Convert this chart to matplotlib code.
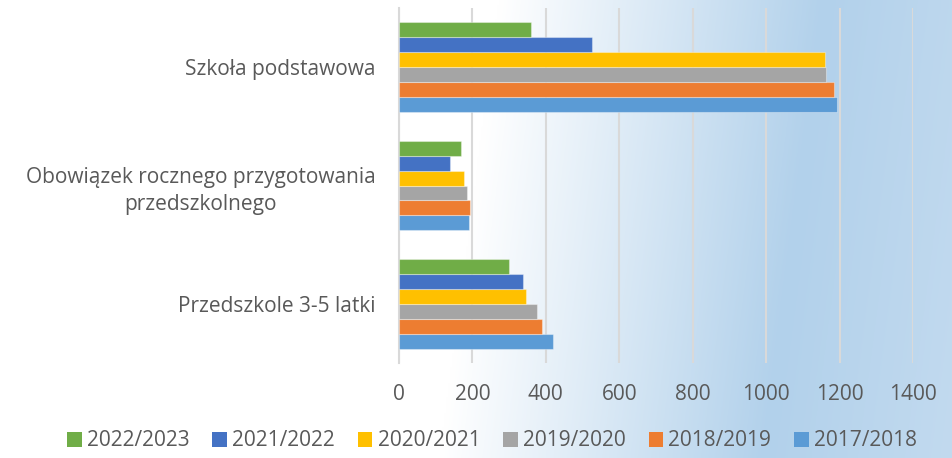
import numpy as np
import matplotlib
matplotlib.use("Agg")
import matplotlib.pyplot as plt
from matplotlib.patches import Patch

categories = ["Przedszkole 3-5 latki",
              "Obowiązek rocznego przygotowania\nprzedszkolnego",
              "Szkoła podstawowa"]
series_names = ["2017/2018", "2018/2019", "2019/2020", "2020/2021", "2021/2022", "2022/2023"]
v_2017 = [420, 190, 1193]
v_2018 = [390, 193, 1185]
v_2019 = [377, 184, 1163]
v_2020 = [345, 178, 1160]
v_2021 = [339, 140, 527]
v_2022 = [299, 170, 359]
values = [v_2017, v_2018, v_2019, v_2020, v_2021, v_2022]
colors = ["#5B9BD5", "#ED7D31", "#A5A5A5", "#FFC000", "#4472C4", "#70AD47"]
xticks = [0, 200, 400, 600, 800, 1000, 1200, 1400]

plt.rcParams['font.family'] = ['Open Sans', 'DejaVu Sans']
text_color = "#595959"

W, H = 953, 458
fig = plt.figure(figsize=(W / 100, H / 100), dpi=100)

# background gradient
bg = fig.add_axes([0, 0, 1, 1], zorder=-10)
xx, yy = np.meshgrid(np.linspace(0, 1, 480), np.linspace(0, 1, 230))
t = xx * W + yy * 60
start, peak = 500.0, 825.0
white = np.array([1.0, 1.0, 1.0])
blue = np.array([0xB2, 0xD1, 0xEB]) / 255
edge = np.array([0xC2, 0xDA, 0xEF]) / 255
a = np.clip((t - start) / (peak - start), 0, 1)[..., None]
img = white * (1 - a) + blue * a
over = np.clip((t - peak) / (W + 60 - peak), 0, 1)[..., None]
img = np.where((t > peak)[..., None], blue * (1 - over) + edge * over, img)
bg.imshow(img, aspect='auto', extent=[0, 1, 0, 1], origin='upper')
bg.set_axis_off()

ax = fig.add_axes([399 / W, 1 - 363 / H, 514 / W, 355 / H])
ax.set_facecolor('none')

n = len(series_names)
group_w = 0.76
bar_h = group_w / n
y = np.arange(len(categories))
for i, (name, vals, c) in enumerate(zip(series_names, values, colors)):
    offs = -group_w / 2 + bar_h * (i + 0.5)
    ax.barh(y + offs, vals, height=bar_h, color=c, label=name,
            edgecolor=matplotlib.colors.to_rgba('white', 0.35), linewidth=0.8, zorder=3)

ax.set_xlim(0, 1400)
ax.set_ylim(-0.5, len(categories) - 0.5)
ax.set_xticks(xticks)
ax.set_xticklabels([str(v) for v in xticks])
ax.set_yticks(y)
ax.set_yticklabels(categories, ha='right', multialignment='center', linespacing=1.35)
ax.tick_params(axis='both', length=0, labelsize=15, colors=text_color)
ax.tick_params(axis='x', pad=15)
ax.tick_params(axis='y', pad=17)
ax.grid(axis='x', color='#D9D9D9', linewidth=1.5, zorder=0)
for s in ['top', 'right', 'bottom']:
    ax.spines[s].set_visible(False)
ax.spines['left'].set_color('#D9D9D9')
ax.spines['left'].set_linewidth(1.5)

handles = [Patch(facecolor=c, edgecolor='none') for c in colors[::-1]]
labels = series_names[::-1]
fig.legend(handles, labels, loc='center', bbox_to_anchor=(492 / W, 1 - 441 / H),
           ncol=6, frameon=False, fontsize=15, labelcolor=text_color,
           handlelength=0.7, handleheight=0.7, handletextpad=0.25, columnspacing=1.1)

fig.savefig("out.png", dpi=100)
